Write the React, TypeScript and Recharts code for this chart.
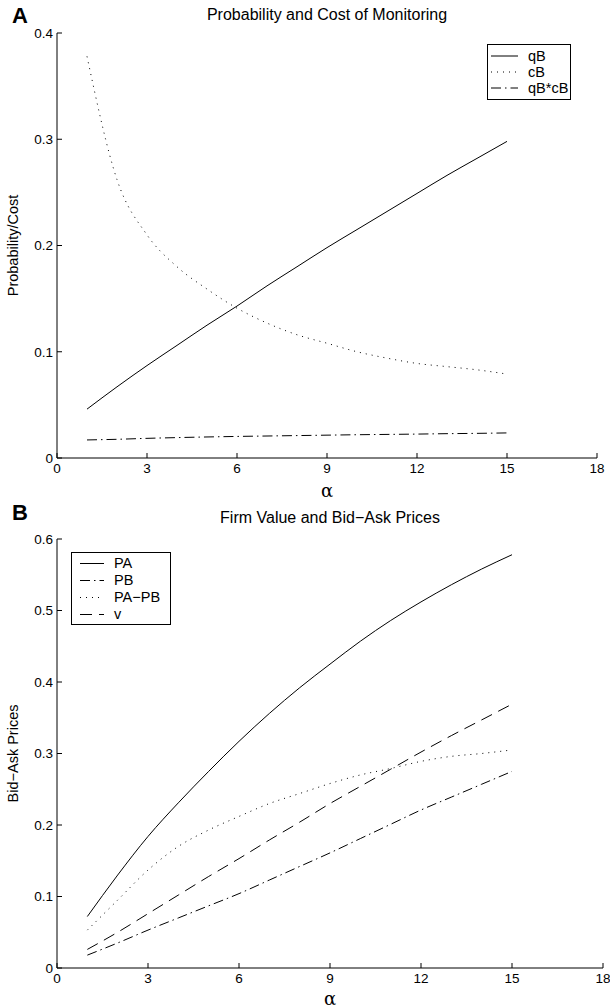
import React from 'react';
import { LineChart, Line, XAxis, YAxis, Legend } from 'recharts';

// alpha grid shared by both panels
const alpha = [1, 2, 3, 4, 5, 6, 7, 8, 9, 10, 11, 12, 13, 14, 15];

// panel A
const qB = [0.046, 0.067, 0.087, 0.106, 0.125, 0.143, 0.162, 0.18, 0.198, 0.215, 0.232, 0.249, 0.266, 0.282, 0.298];
const cB = [0.378, 0.262, 0.21, 0.18, 0.159, 0.141, 0.127, 0.116, 0.108, 0.1, 0.094, 0.089, 0.086, 0.083, 0.079];
const qBcB = [0.017, 0.0176, 0.0185, 0.0192, 0.0198, 0.0203, 0.0207, 0.0211, 0.0215, 0.0219, 0.0222, 0.0225, 0.0229, 0.0232, 0.0236];

// panel B
const PA = [0.072, 0.13, 0.184, 0.231, 0.275, 0.317, 0.356, 0.392, 0.425, 0.457, 0.486, 0.512, 0.536, 0.558, 0.578];
const PB = [0.018, 0.035, 0.053, 0.07, 0.087, 0.104, 0.123, 0.142, 0.161, 0.181, 0.201, 0.221, 0.239, 0.257, 0.275];
const PAmPB = [0.053, 0.095, 0.137, 0.17, 0.193, 0.212, 0.23, 0.244, 0.258, 0.27, 0.279, 0.289, 0.296, 0.3, 0.305];
const v = [0.026, 0.05, 0.076, 0.102, 0.128, 0.153, 0.179, 0.204, 0.23, 0.254, 0.278, 0.302, 0.325, 0.347, 0.369];

const xTicks = [0, 3, 6, 9, 12, 15, 18];
const topYTicks = [0, 0.1, 0.2, 0.3, 0.4];
const bottomYTicks = [0, 0.1, 0.2, 0.3, 0.4, 0.5, 0.6];

const topData = alpha.map((a, i) => ({ alpha: a, qB: qB[i], cB: cB[i], qBcB: qBcB[i] }));
const bottomData = alpha.map((a, i) => ({ alpha: a, PA: PA[i], PB: PB[i], PAmPB: PAmPB[i], v: v[i] }));

const FONT = '"Liberation Sans", Arial, Helvetica, sans-serif';
const DOTTED = '1 5';
const DASHDOT = '10 4 1.5 4';
const DASHED = '12 7';

const topSeries = [
  { key: 'qB', name: 'qB', dash: undefined },
  { key: 'cB', name: 'cB', dash: DOTTED },
  { key: 'qBcB', name: 'qB*cB', dash: DASHDOT },
];
const bottomSeries = [
  { key: 'PA', name: 'PA', dash: undefined },
  { key: 'PB', name: 'PB', dash: DASHDOT },
  { key: 'PAmPB', name: 'PA\u2212PB', dash: DOTTED },
  { key: 'v', name: 'v', dash: DASHED },
];

const tickStyle = { fill: '#000', fontSize: 13.5, fontFamily: FONT };

const YTitle = ({ viewBox, text }: any) => {
  const cy = viewBox ? viewBox.y + viewBox.height / 2 : 0;
  return (
    <text x={13} y={cy} transform={`rotate(-90 13 ${cy})`} textAnchor="middle" dominantBaseline="central"
      fontSize={14.5} fontFamily={FONT} fill="#000">{text}</text>
  );
};

const XTitle = ({ viewBox, dy }: any) => {
  const cx = viewBox ? viewBox.x + viewBox.width / 2 : 0;
  const y = viewBox ? viewBox.y + dy : 0;
  return (
    <text x={cx} y={y} textAnchor="middle" dominantBaseline="central" fontSize={18} fontFamily="'DejaVu Serif', serif" fill="#000">α</text>
  );
};

const LegendBox = ({ items, rowH, pad, lineX1, lineX2, textX }: any) => (
  <div style={{ border: '1.5px solid #000', background: '#fff', padding: `${pad}px 0`, boxSizing: 'border-box', fontFamily: FONT, fontSize: 14.5 }}>
    {items.map((it: any) => (
      <div key={it.key} style={{ position: 'relative', height: rowH }}>
        <svg width={textX} height={rowH} style={{ position: 'absolute', left: 0, top: 0 }}>
          <line x1={lineX1} x2={lineX2} y1={rowH / 2} y2={rowH / 2} stroke="#000" strokeDasharray={it.dash} />
        </svg>
        <span style={{ position: 'absolute', left: textX, top: 0, lineHeight: `${rowH}px` }}>{it.name}</span>
      </div>
    ))}
  </div>
);

const panelLetter = { position: 'absolute' as const, fontFamily: FONT, fontWeight: 'bold' as const, fontSize: 22, lineHeight: 1 };
const panelTitle = { position: 'absolute' as const, fontFamily: FONT, fontSize: 16, textAlign: 'center' as const, whiteSpace: 'nowrap' as const };

export default function App() {
  return (
    <div style={{ position: 'absolute', left: 0, top: 0, width: 610, height: 1008, background: '#fff', overflow: 'hidden' }}>
      <div style={{ ...panelLetter, left: 12, top: 5 }}>A</div>
      <div style={{ ...panelTitle, left: 57, width: 540, top: 6 }}>Probability and Cost of Monitoring</div>
      <div style={{ position: 'absolute', left: 0, top: 0 }}>
        <LineChart width={610} height={500} data={topData} margin={{ top: 33, right: 13, bottom: 0, left: 0 }}>
          <XAxis dataKey="alpha" type="number" domain={[0, 18]} ticks={xTicks} interval={0} height={42}
            tickSize={-5} tickMargin={10} stroke="#000" tick={tickStyle} label={<XTitle dy={32} />} />
          <XAxis xAxisId="top" orientation="top" dataKey="alpha" type="number" domain={[0, 18]} ticks={xTicks}
            height={0} tickSize={-5} tick={false} stroke="#000" />
          <YAxis type="number" domain={[0, 0.4]} ticks={topYTicks} interval={0} width={57}
            tickSize={-5} tickMargin={9} stroke="#000" tick={tickStyle} label={<YTitle text="Probability/Cost" />} />
          <YAxis yAxisId="right" orientation="right" type="number" domain={[0, 0.4]} ticks={topYTicks}
            width={0} tickSize={-5} tick={false} stroke="#000" />
          <Legend layout="vertical" align="center" verticalAlign="middle"
            wrapperStyle={{ left: 487, top: 44, width: 84 }}
            content={() => <LegendBox items={topSeries} rowH={16} pad={3} lineX1={3} lineX2={30} textX={40} />} />
          {topSeries.map((s) => (
            <Line key={s.key} dataKey={s.key} name={s.name} type="monotone" stroke="#000" strokeWidth={1}
              strokeDasharray={s.dash} dot={false} activeDot={false} isAnimationActive={false} />
          ))}
        </LineChart>
      </div>

      <div style={{ ...panelLetter, left: 12, top: 502 }}>B</div>
      <div style={{ ...panelTitle, left: 57, width: 546, top: 509 }}>Firm Value and Bid{'\u2212'}Ask Prices</div>
      <div style={{ position: 'absolute', left: 0, top: 505 }}>
        <LineChart width={610} height={503} data={bottomData} margin={{ top: 34, right: 7, bottom: 0, left: 0 }}>
          <XAxis dataKey="alpha" type="number" domain={[0, 18]} ticks={xTicks} interval={0} height={40}
            tickSize={-5} tickMargin={10} stroke="#000" tick={tickStyle} label={<XTitle dy={30} />} />
          <XAxis xAxisId="top" orientation="top" dataKey="alpha" type="number" domain={[0, 18]} ticks={xTicks}
            height={0} tickSize={-5} tick={false} stroke="#000" />
          <YAxis type="number" domain={[0, 0.6]} ticks={bottomYTicks} interval={0} width={57}
            tickSize={-5} tickMargin={9} stroke="#000" tick={tickStyle} label={<YTitle text={'Bid\u2212Ask Prices'} />} />
          <YAxis yAxisId="right" orientation="right" type="number" domain={[0, 0.6]} ticks={bottomYTicks}
            width={0} tickSize={-5} tick={false} stroke="#000" />
          <Legend layout="vertical" align="center" verticalAlign="middle"
            wrapperStyle={{ left: 71, top: 47, width: 100 }}
            content={() => <LegendBox items={bottomSeries} rowH={17} pad={1.5} lineX1={8} lineX2={32} textX={42} />} />
          {bottomSeries.map((s) => (
            <Line key={s.key} dataKey={s.key} name={s.name} type="monotone" stroke="#000" strokeWidth={1}
              strokeDasharray={s.dash} dot={false} activeDot={false} isAnimationActive={false} />
          ))}
        </LineChart>
      </div>
    </div>
  );
}
